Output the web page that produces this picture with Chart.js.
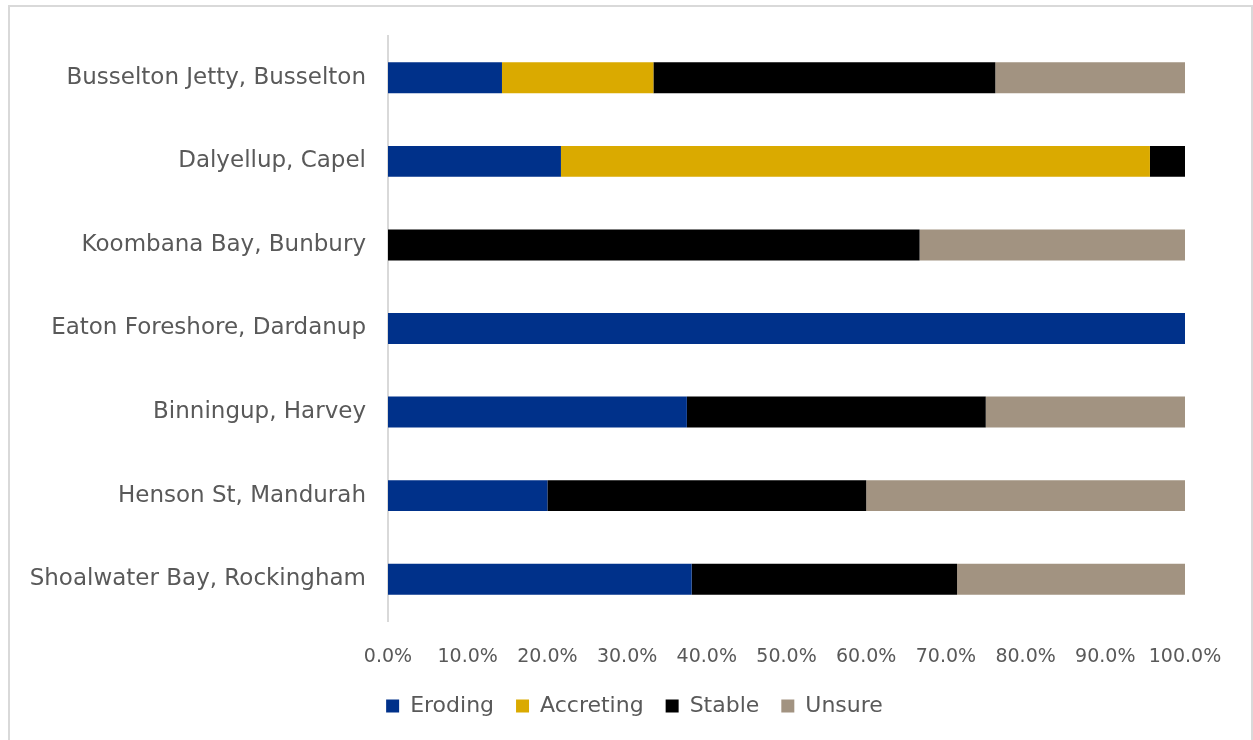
<!DOCTYPE html>
<html>
<head>
<meta charset="utf-8">
<script src="https://cdn.jsdelivr.net/npm/chart.js@4.4.1/dist/chart.umd.min.js"></script>
<style>
  html, body { margin: 0; padding: 0; background: #fff; }
  #wrap { width: 1253px; height: 740px; position: relative; }
</style>
</head>
<body>
<div id="wrap"><canvas id="myChart" width="1253" height="740"></canvas></div>
<script>
var plekken = ['Busselton Jetty, Busselton', 'Dalyellup, Capel', 'Koombana Bay, Bunbury',
    'Eaton Foreshore, Dardanup', 'Binningup, Harvey', 'Henson St, Mandurah', 'Shoalwater Bay, Rockingham'];

// percentages per site
var eroding   = [14.3, 21.7, 0, 100, 37.5, 20.0, 38.1];
var accreting = [19.0, 73.9, 0, 0, 0, 0, 0];
var stable    = [42.9, 4.4, 66.7, 0, 37.5, 40.0, 33.3];
var unsure    = [23.8, 0, 33.3, 0, 25.0, 40.0, 28.6];

var tekstKleur = '#595959';
var lettertype = "'DejaVu Sans', sans-serif";

Chart.defaults.font.family = lettertype;
Chart.defaults.color = tekstKleur;

// grey frame around the whole chart
var kader = {
    id: 'kader',
    beforeDraw: function(chart){
        var c = chart.ctx;
        c.save();
        c.strokeStyle = '#d9d9d9';
        c.lineWidth = 2;
        c.strokeRect(9, 6, 1243, 760);
        c.restore();
    }
};

// centre the legend under the frame instead of under the padded area
var legendaMidden = {
    id: 'legendaMidden',
    afterLayout: function(chart){
        chart.legend.left += 42;
        chart.legend.right += 42;
    }
};

function reeks(naam, data, kleur){
    return {
        label: naam,
        data: data,
        backgroundColor: kleur,
        borderWidth: 0,
        categoryPercentage: 1,
        barPercentage: 0.37
    };
}

var ctx = document.getElementById('myChart').getContext('2d');
var chart = new Chart(ctx, {
    type: 'bar',
    data: {
        labels: plekken,
        datasets: [
            reeks('Eroding', eroding, '#00318a'),
            reeks('Accreting', accreting, '#daaa00'),
            reeks('Stable', stable, '#000000'),
            reeks('Unsure', unsure, '#a29381')
        ]
    },
    plugins: [kader, legendaMidden],
    options: {
        indexAxis: 'y',
        responsive: false,
        animation: false,
        layout: {
            padding: { top: 36, right: 68, left: 0, bottom: 13 }
        },
        scales: {
            x: {
                stacked: true,
                min: 0,
                max: 100,
                grid: { display: false, drawTicks: false },
                border: { display: false },
                ticks: {
                    stepSize: 10,
                    padding: 25,
                    autoSkip: false,
                    maxRotation: 0,
                    font: { size: 19 },
                    callback: function(v){ return v.toFixed(1) + '%'; }
                },
                afterFit: function(scale){ scale.height = 52; }
            },
            y: {
                stacked: true,
                grid: { display: false, drawTicks: false },
                border: { display: true, color: '#d9d9d9', width: 2 },
                ticks: {
                    padding: 22,
                    font: { size: 23 }
                },
                afterFit: function(scale){ scale.width = 388; }
            }
        },
        plugins: {
            legend: {
                position: 'bottom',
                labels: {
                    boxWidth: 13,
                    boxHeight: 13,
                    padding: 22,
                    font: { size: 22 },
                    color: tekstKleur
                }
            },
            tooltip: { enabled: false }
        }
    }
});
</script>
</body>
</html>
